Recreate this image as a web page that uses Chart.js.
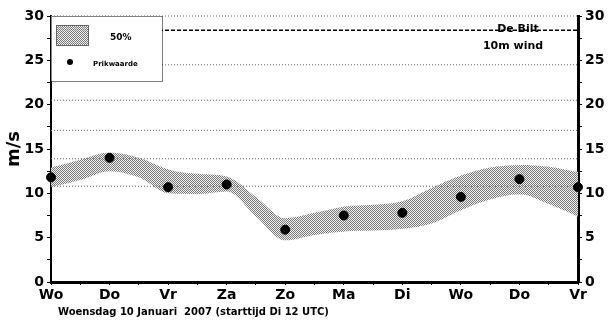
<!DOCTYPE html>
<html>
<head>
<meta charset="utf-8">
<script src="https://cdn.jsdelivr.net/npm/chart.js@4/dist/chart.umd.min.js"></script>
<style>
  html, body { margin: 0; padding: 0; background: #fff; }
  #wrap { width: 609px; height: 323px; }
</style>
</head>
<body>
<div id="wrap"><canvas id="windChart"></canvas></div>
<script>
// ------------------- DATA -------------------
const dayLabels = ["Wo", "Do", "Vr", "Za", "Zo", "Ma", "Di", "Wo", "Do", "Vr"];
const pointDays = [0, 1, 2, 3, 4, 5, 6, 7, 8, 9];
const pointValues = [11.8, 14.0, 10.7, 11.0, 5.9, 7.5, 7.8, 9.6, 11.6, 10.7];

// 50% band, every half day
const bandDays = [0, 0.5, 1, 1.5, 2, 2.5, 3, 3.5, 4, 4.5, 5, 5.5, 6, 6.5, 7, 7.5, 8, 8.5, 9];
const bandUpper = [12.9, 13.8, 14.6, 14.0, 12.7, 12.2, 11.9, 9.6, 7.2, 7.8, 8.5, 8.7, 9.1, 10.6, 12.0, 12.9, 13.2, 13.0, 12.4];
const bandLower = [10.7, 11.5, 12.5, 11.8, 10.0, 9.9, 10.2, 7.4, 4.7, 5.3, 5.7, 5.8, 6.0, 6.6, 8.1, 9.3, 9.9, 8.8, 7.4];

// reference lines (Beaufort boundaries)
const refLines = [10.8, 13.9, 17.1, 20.5, 24.5, 30];
const deBiltLine = 28.4;

const bandLabel = "50%";
const pointLabel = "Prikwaarde";
const titleLines = ["De Bilt", "10m wind"];
const subTitle = "Woensdag 10 Januari  2007 (starttijd Di 12 UTC)";

// ------------------- PATTERN -------------------
function makeStipple() {
  const c = document.createElement("canvas");
  c.width = 2; c.height = 2;
  const g = c.getContext("2d");
  g.fillStyle = "#eeeeee";
  g.fillRect(0, 0, 2, 2);
  g.fillStyle = "#7c7c7c";
  g.fillRect(0, 0, 1, 1);
  g.fillRect(1, 1, 1, 1);
  return g.createPattern(c, "repeat");
}
const stipple = makeStipple();

// ------------------- DATASETS -------------------
const toXY = (xs, ys) => xs.map((x, i) => ({ x: x, y: ys[i] }));

const datasets = [
  {
    label: bandLabel,
    data: toXY(bandDays, bandUpper),
    borderWidth: 0,
    backgroundColor: stipple,
    fill: "+1",
    pointRadius: 0,
    cubicInterpolationMode: "monotone",
    order: 3
  },
  {
    label: bandLabel + " lower",
    data: toXY(bandDays, bandLower),
    borderWidth: 0,
    pointRadius: 0,
    fill: false,
    cubicInterpolationMode: "monotone",
    order: 3
  }
];

refLines.forEach(v => {
  datasets.push({
    label: "ref " + v,
    data: [{ x: 0, y: v }, { x: 9, y: v }],
    borderColor: "#666",
    borderWidth: 1,
    borderDash: [1, 2],
    pointRadius: 0,
    fill: false,
    clip: false,
    order: 2
  });
});

datasets.push({
  label: "De Bilt",
  data: [{ x: 0, y: deBiltLine }, { x: 9, y: deBiltLine }],
  borderColor: "#000",
  borderWidth: 1.5,
  borderDash: [4, 2],
  pointRadius: 0,
  fill: false,
  order: 2
});

datasets.push({
  label: pointLabel,
  data: toXY(pointDays, pointValues),
  showLine: false,
  pointRadius: 4.5,
  pointBackgroundColor: "#000",
  pointBorderColor: "#000",
  clip: false,
  order: 1
});

// ------------------- PLUGIN: legend box + station text -------------------
const overlay = {
  id: "overlay",
  afterDatasetsDraw(chart) {
    const c = chart.ctx;
    const xs = chart.scales.x, ys = chart.scales.y;
    c.save();
    // legend box
    const bx = xs.getPixelForValue(0), by = ys.getPixelForValue(30);
    const bw = 111, bh = 65;
    c.fillStyle = "#fff";
    c.fillRect(bx, by, bw, bh);
    c.strokeStyle = "#000";
    c.lineWidth = 1;
    c.setLineDash([1, 1]);
    c.strokeRect(bx + 0.5, by + 0.5, bw, bh);
    c.setLineDash([]);
    c.fillStyle = stipple;
    c.fillRect(bx + 5, by + 9, 33, 21);
    c.strokeStyle = "#666";
    c.strokeRect(bx + 5.5, by + 9.5, 32, 20);
    c.fillStyle = "#000";
    c.font = "bold 9px 'DejaVu Sans'";
    c.textAlign = "left";
    c.textBaseline = "middle";
    c.fillText(bandLabel, bx + 59, by + 22);
    c.beginPath();
    c.arc(bx + 19, by + 46, 3, 0, Math.PI * 2);
    c.fill();
    c.font = "bold 7px 'DejaVu Sans'";
    c.fillText(pointLabel, bx + 42, by + 48);
    // station text
    c.font = "bold 11px 'DejaVu Sans'";
    c.textAlign = "center";
    c.fillText(titleLines[0], 518, 29);
    c.fillText(titleLines[1], 513, 46);
    c.restore();
  }
};

// ------------------- CHART -------------------
const tickFont = { family: "DejaVu Sans", size: 14, weight: "bold" };

new Chart(document.getElementById("windChart"), {
  type: "line",
  data: { datasets: datasets },
  options: {
    responsive: true,
    maintainAspectRatio: false,
    animation: false,
    layout: { padding: { top: 16, left: 0, right: 0, bottom: 0 } },
    plugins: {
      legend: { display: false },
      tooltip: { enabled: false }
    },
    scales: {
      x: {
        type: "linear",
        min: 0,
        max: 9,
        afterFit: s => { s.height = 41; },
        ticks: {
          stepSize: 0.5,
          autoSkip: false,
          maxRotation: 0,
          padding: 2,
          color: "#000",
          font: tickFont,
          callback: v => Number.isInteger(v) ? dayLabels[v] : ""
        },
        grid: { drawOnChartArea: false, drawTicks: true, tickLength: 3, color: "#000" },
        border: { display: true, color: "#000", width: 3 },
        title: {
          display: true,
          align: "start",
          text: "  " + subTitle,
          color: "#000",
          font: { family: "DejaVu Sans", size: 10, weight: "bold" },
          padding: { top: 4, bottom: 5 }
        }
      },
      y: {
        position: "left",
        min: 0,
        max: 30,
        afterFit: s => { s.width = 51; },
        ticks: {
          stepSize: 2.5,
          padding: 3,
          color: "#000",
          font: tickFont,
          callback: v => v % 5 === 0 ? v : ""
        },
        grid: { drawOnChartArea: false, drawTicks: true, tickLength: 4, color: "#000" },
        border: { display: true, color: "#000", width: 2 },
        title: {
          display: true,
          text: "m/s",
          color: "#000",
          font: { family: "DejaVu Sans", size: 18, weight: "bold" },
          padding: { top: 4, bottom: 0 }
        }
      },
      y2: {
        position: "right",
        min: 0,
        max: 30,
        afterFit: s => { s.width = 31; },
        ticks: {
          stepSize: 2.5,
          padding: 3,
          color: "#000",
          font: tickFont,
          callback: v => v % 5 === 0 ? v : ""
        },
        grid: { drawOnChartArea: false, drawTicks: true, tickLength: 4, color: "#000" },
        border: { display: true, color: "#000", width: 3 }
      }
    }
  },
  plugins: [overlay]
});
</script>
</body>
</html>
